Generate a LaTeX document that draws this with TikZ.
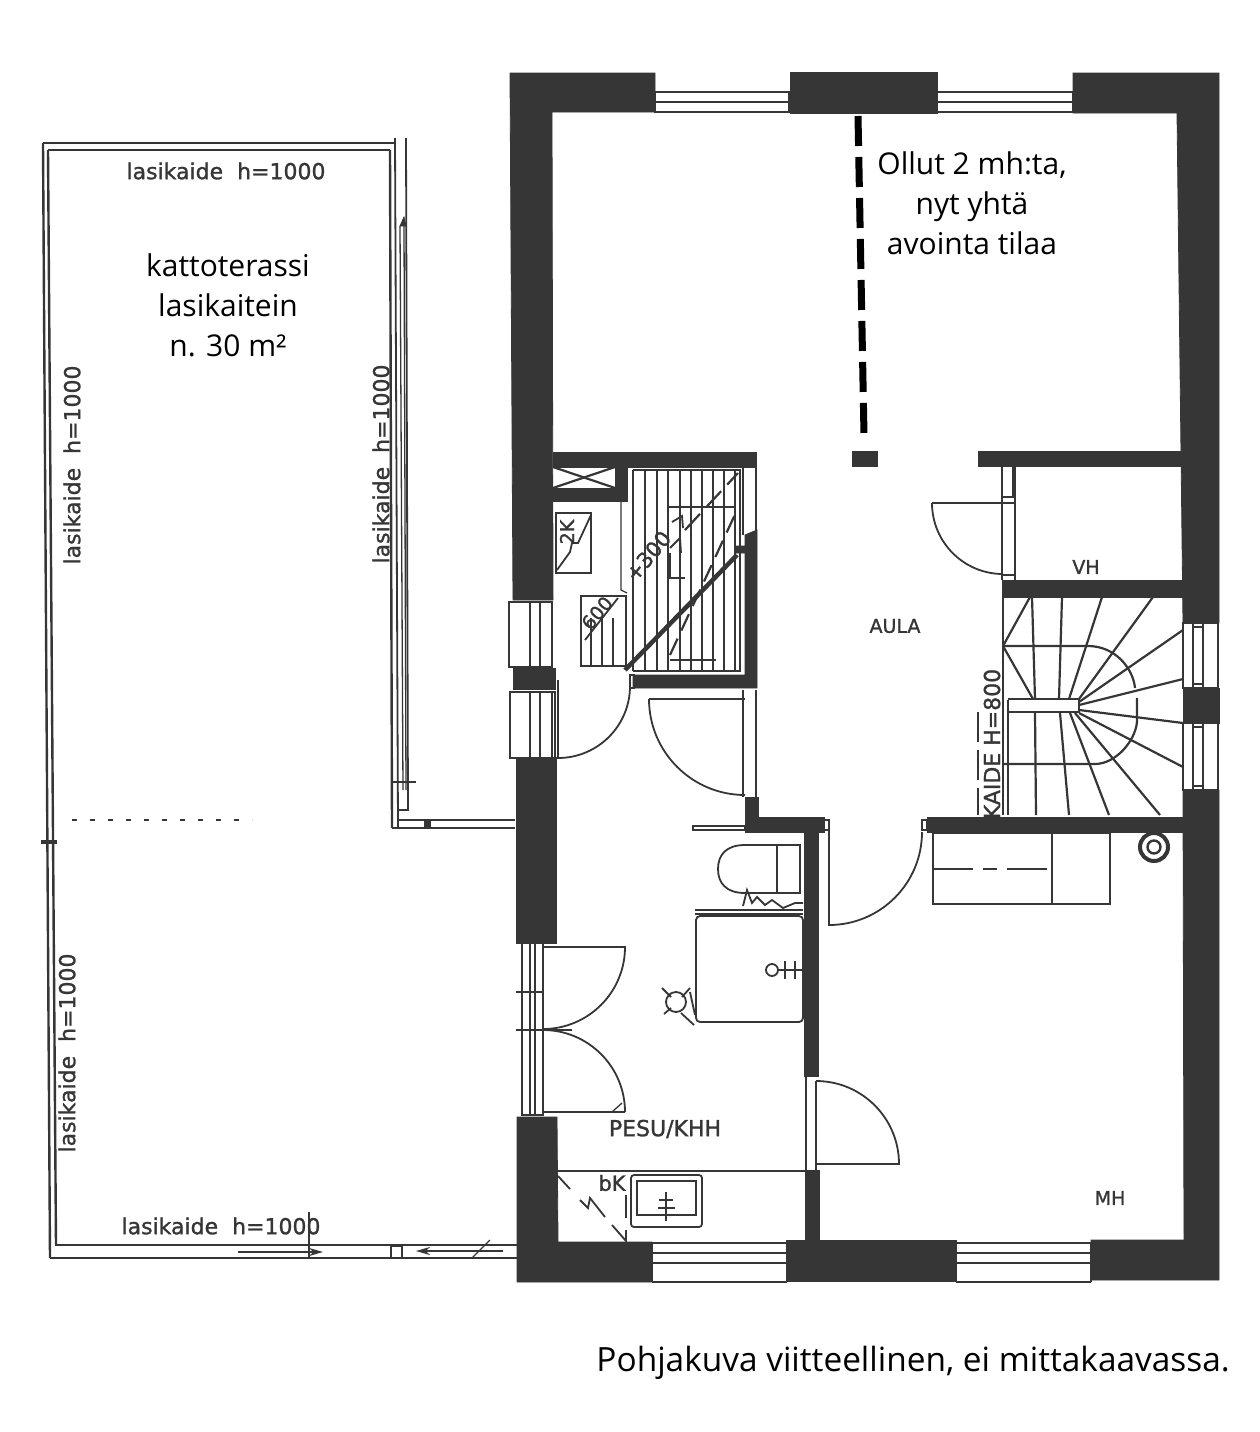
\documentclass[tikz,border=0pt]{standalone}
\usepackage{fontspec}
\setmainfont{Open Sans}
\newfontfamily\cadfamily[RawFeature={embolden=1.2}]{DejaVu Sans}
\usetikzlibrary{arrows.meta}
\definecolor{walldark}{HTML}{363636}
\tikzset{
    wall/.style={fill=walldark,draw=walldark,line width=0.8pt},
    plan/.style={draw=walldark,line width=1.8pt},
    fine/.style={draw=walldark,line width=1.3pt},
    tread/.style={draw=walldark,line width=2.2pt},
    rail/.style={draw=walldark,line width=2.4pt},
    cadtext/.style={text=walldark,inner sep=0pt,font=\cadfamily\fontsize{19}{19}\selectfont},
    bigcad/.style={text=walldark,inner sep=0pt,font=\cadfamily\fontsize{22}{22}\selectfont},
    notetext/.style={text=black,inner sep=0pt,align=center,font=\fontsize{30}{40}\selectfont}
}
\begin{document}
\begin{tikzpicture}[x=1pt,y=-1pt]
    \useasboundingbox (0,0) rectangle (1259,1432);

    % Outer walls
    \path[wall] (510,73) -- (655,73) -- (655,112) -- (552,112) -- (553,600) -- (513,600) -- cycle;
    \path[wall] (790,72) -- (937,72) -- (937,113) -- (790,113) -- cycle;
    \path[wall] (1073,73) -- (1219,73) -- (1219,623) -- (1183,623) -- (1177,113) -- (1073,113) -- cycle;
    \path[wall] (1183,688) rectangle (1219,723);
    \path[wall] (1091,1240) -- (1184,1240) -- (1183,790) -- (1219,790) -- (1219,1280) -- (1091,1280) -- cycle;
    \path[wall] (786,1240) -- (805,1240) -- (805,1170) -- (819,1170) -- (819,1240) -- (956,1240) -- (956,1281) -- (786,1281) -- cycle;
    \path[wall] (517,1117) -- (557,1117) -- (558,1242) -- (652,1242) -- (652,1282) -- (517,1282) -- cycle;
    \path[wall] (516,757) rectangle (556,943);
    \path[wall] (513,668) rectangle (555,689);

    % Inner walls
    \path[wall] (553,452) -- (756,452) -- (756,467) -- (627,467) -- (627,501) -- (553,501) -- (553,488) -- (615,488) -- (615,467) -- (553,467) -- cycle;
    \path[wall] (745,535) -- (757,530) -- (757,688) -- (633,688) -- (633,675) -- (745,675) -- (745,553) -- (736,553) -- (736,546) -- (745,546) -- cycle;
    \path[wall] (745,797) -- (758,797) -- (758,817) -- (824,817) -- (824,832) -- (818,832) -- (818,1076) -- (804,1076) -- (804,832) -- (745,832) -- cycle;
    \path[wall] (852,451) rectangle (877,466);
    \path[wall] (978,451) rectangle (1183,466);
    \path[wall] (1002,580) rectangle (1183,597);
    \path[wall] (927,817) rectangle (1183,832);
    \path[wall] (1012,466) rectangle (1015,497);

    % Removed partition
    \draw[black,line width=7pt,dash pattern=on 30pt off 11pt] (858,116) -- (864,435);

    % Windows
    \foreach \xa/\xb in {655/789,937/1073} {
        \draw[plan] (\xa,92) rectangle (\xb,112);
        \draw[plan] (\xa,102) -- (\xb,102);
    }
    \foreach \xa/\xb in {652/787,956/1091} {
        \draw[plan] (\xa,1243) rectangle (\xb,1263);
        \draw[plan] (\xa,1253) -- (\xb,1253);
        \draw[plan] (\xa,1282) -- (\xb,1282);
        \draw[fine] (\xa,1263) -- (\xa,1282);
        \draw[fine] (\xb,1263) -- (\xb,1282);
    }
    \foreach \ya/\yb in {623/688,723/790} {
        \draw[plan] (1183,\ya) rectangle (1218,\yb);
        \draw[fine] (1193,\ya) -- (1193,\yb);
        \draw[fine] (1203,\ya) -- (1203,\yb);
        \draw[fine] (1193,\ya+4) -- (1203,\ya+4);
        \draw[fine] (1193,\yb-4) -- (1203,\yb-4);
    }
    \draw[plan] (509,602) rectangle (552,667);
    \draw[fine] (530,602) -- (530,667);
    \draw[fine] (540,602) -- (540,667);
    \draw[plan] (510,692) rectangle (555,758);
    \draw[fine] (530,692) -- (530,758);
    \draw[fine] (540,692) -- (540,758);
    \draw[fine] (552,692) -- (552,758);

    % Shaft and cabinets
    \draw[tread] (553,467) -- (615,488);
    \draw[tread] (553,488) -- (615,467);
    \draw[fine] (621,501) -- (621,590) -- (627,593);
    \draw[plan] (556,513) rectangle (591,573);
    \draw[plan] (557,570) -- (570,552) -- (572,543) -- (578,543) -- (591,515);
    \node[cadtext,rotate=90] (fuseA) at (567,532) {2K};
    \draw[plan] (581,596) rectangle (626,666);
    \foreach \x in {591,602,613}
        \draw[fine] (\x,618) -- (\x,666);
    \draw[plan] (585,640) -- (618,598);
    \node[cadtext,rotate=50] (fuseB) at (597,613) {600};

    % Straight stair
    \draw[tread] (633,470) -- (741,470);
    \draw[tread] (633,671) -- (741,671);
    \foreach \x in {633,645,657,668,680,691,702,713,724,735,740}
        \draw[tread] (\x,470) -- (\x,671);
    \draw[plan] (668,507) -- (735,507);
    \draw[plan] (670,660) -- (716,660);
    \draw[fine] (743,467) -- (743,535);
    \draw[fine] (756,467) -- (756,535);
    \draw[walldark,line width=4.5pt] (625,670) -- (737,555);
    \draw[tread,dash pattern=on 18pt off 9pt] (670,655) -- (738,508);
    \draw[tread,dash pattern=on 22pt off 9pt] (685,530) -- (738,473);
    \draw[plan] (670,553) -- (670,578) -- (685,578);
    \draw[plan] (672,522) -- (682,516) -- (683,528);
    \draw[plan] (670,548) -- (680,538) -- (681,553);
    \node[cadtext,font=\cadfamily\fontsize{21}{21}\selectfont,rotate=50] (stairrise) at (648,556) {+300};

    % Doors
    \draw[plan] (630,675) rectangle (634,688);
    \draw[plan] (558,680) -- (558,758) arc (90:0:72);
    \draw[plan] (649,699) -- (745,699);
    \draw[plan] (649,699) arc (180:90:96);
    \draw[plan] (743,690) -- (743,797);
    \draw[plan] (756,690) -- (756,797);
    \draw[plan] (693,826) -- (745,826) -- (745,830) -- (693,830) -- cycle;
    \draw[plan] (932,503) -- (1003,503);
    \draw[plan] (932,503) arc (180:90:71);
    \draw[plan] (1002,466) -- (1002,580);
    \draw[plan] (1015,497) -- (1015,580);
    \draw[plan] (1002,497) -- (1015,497);
    \draw[plan] (1002,503) -- (1015,503);
    \draw[plan] (1002,575) -- (1015,575);
    \draw[plan] (829,820) -- (829,925) arc (90:0:93);
    \draw[plan] (824,820) rectangle (829,830);
    \draw[plan] (922,820) rectangle (927,830);
    \draw[plan] (806,1076) -- (806,1170);
    \draw[plan] (816,1081) -- (816,1170);
    \draw[plan] (806,1076) -- (818,1076);
    \draw[plan] (816,1081) arc (-90:0:83) -- (816,1164);

    % Double door
    \draw[plan] (522,943) -- (522,1115) -- (543,1115) -- (543,943) -- cycle;
    \foreach \x in {530,535}
        \draw[fine] (\x,943) -- (\x,1115);
    \draw[plan] (543,947) -- (625,947) arc (0:90:82);
    \draw[plan] (625,1112) -- (543,1112);
    \draw[plan] (543,1030) arc (-90:0:82);
    \draw[fine] (516,992) -- (543,992);
    \draw[fine] (516,1030) -- (572,1030);
    \draw[fine] (612,1112) -- (622,1103);

    % Spiral stair
    \draw[plan] (1003,597) -- (1003,815);
    \draw[plan] (1008,700) -- (1008,815);
    \draw[plan] (1008,699) -- (1079,699) -- (1079,712) -- (1008,712);
    \foreach \xa/\ya/\xb/\yb in {1003/646/1030/597, 1003/646/1033/699, 1032/597/1035/699,
        1062/597/1059/699, 1102/597/1069/699, 1153/597/1079/699, 1183/630/1079/702,
        1183/679/1079/705, 1183/723/1079/710, 1183/767/1079/713, 1160/815/1075/713,
        1109/815/1070/713, 1069/815/1060/713, 1036/815/1035/713}
        \draw[tread] (\xa,\ya) -- (\xb,\yb);
    \draw[tread] (1003,646) -- (1088,646) .. controls (1115,646) and (1133,668) .. (1135,688);
    \draw[tread] (1137,698) -- (1137,722) .. controls (1135,742) and (1115,764) .. (1095,764) -- (1003,764);
    \draw[fine,dash pattern=on 30pt off 8pt] (978,712) -- (978,815);
    \node[bigcad,rotate=90] (rail) at (992,744) {KAIDE H=800};

    % Closet and flue
    \draw[plan] (933,833) rectangle (1110,904);
    \draw[plan] (1052,833) -- (1052,904);
    \draw[plan,dash pattern=on 40pt off 10pt on 14pt off 10pt] (933,869) -- (1052,869);
    \draw[walldark,line width=4pt] (1154,847) circle (14);
    \draw[walldark,line width=2.4pt] (1154,847) circle (6.5);

    % Wash room fixtures
    \draw[plan] (800,845) -- (745,845) .. controls (726,845) and (718,855) .. (718,869) .. controls (718,883) and (726,893) .. (745,893) -- (800,893) -- cycle;
    \draw[plan] (777,845) -- (777,893);
    \draw[plan] (743,906) -- (747,890) -- (752,903) -- (757,897) -- (765,905) -- (772,900) -- (783,908) -- (795,903) -- (803,903);
    \draw[plan] (695,910) -- (803,910);
    \draw[plan] (695,914) -- (803,914);
    \draw[plan,rounded corners=4pt] (696,916) rectangle (803,1022);
    \draw[plan] (772,970) circle (6);
    \draw[plan] (778,970) -- (803,970);
    \draw[plan] (785,961) -- (785,979);
    \draw[plan] (795,961) -- (795,979);
    \draw[plan] (676,1002) circle (10);
    \draw[plan] (662,988) -- (671,997);
    \draw[plan] (664,1014) -- (671,1008);
    \draw[plan] (682,997) -- (690,988);
    \draw[plan] (681,1013) -- (694,1025);
    \draw[plan] (690,992) -- (695,1015);
    \draw[plan] (557,1171) -- (805,1171);
    \draw[plan,rounded corners=3pt] (631,1175) rectangle (702,1227);
    \draw[plan] (637,1181) rectangle (696,1215);
    \draw[fine] (666,1192) -- (666,1221);
    \draw[fine] (659,1200) -- (673,1200);
    \draw[fine] (658,1208) -- (675,1208);
    \draw[plan] (558,1176) -- (570,1189);
    \draw[plan] (580,1200) -- (588,1208) -- (590,1198) -- (605,1217);
    \draw[plan] (612,1225) -- (626,1241) -- (626,1230);
    \draw[plan] (626,1195) -- (626,1218);

    % Terrace rails
    \draw[rail] (43,143) -- (395,143);
    \draw[rail] (48,150) -- (390,150);
    \draw[rail] (43,143) -- (50,1258);
    \draw[rail] (48,150) -- (56,1245);
    \draw[walldark,line width=4pt] (41,842) -- (57,842);
    \draw[rail] (390,150) -- (392,828);
    \draw[plan] (395,138) -- (398,828);
    \draw[plan] (406,138) -- (408,810) -- (398,810);
    \draw[fine] (392,782) -- (416,782);
    \draw[fine] (400,226) -- (403,790);
    \draw[fine] (404,226) -- (406,790);
    \path[wall] (400,226) -- (404,217) -- (406,226) -- cycle;
    \draw[rail] (398,820) -- (515,820);
    \draw[rail] (392,828) -- (515,828);
    \path[wall] (424,821) rectangle (430,827);
    \draw[walldark,line width=1.6pt,dash pattern=on 5pt off 13pt] (72,820) -- (252,820);
    \draw[rail] (55,1245) -- (517,1245);
    \draw[rail] (50,1258) -- (517,1258);
    \draw[plan,line width=2.4pt,-{Stealth[length=14pt,width=8pt]}] (238,1252) -- (323,1252);
    \draw[plan,line width=2.4pt,-{Stealth[length=14pt,width=8pt]}] (503,1251) -- (416,1251);
    \draw[fine] (309,1212) -- (309,1259);
    \draw[fine] (391,1246) rectangle (402,1258);
    \draw[fine] (472,1258) -- (490,1240);

    % Labels
    \node[bigcad] (railtop) at (226,171) {lasikaide\ \ h=1000};
    \node[bigcad] (railbottom) at (221,1226) {lasikaide\ \ h=1000};
    \node[bigcad,rotate=90] (railwest) at (72,465) {lasikaide\ \ h=1000};
    \node[bigcad,rotate=90] (railsouth) at (67,1053) {lasikaide\ \ h=1000};
    \node[bigcad,rotate=90] (raileast) at (381,464) {lasikaide\ \ h=1000};
    \node[cadtext] (aula) at (895,626) {AULA};
    \node[cadtext] (vh) at (1086,567) {VH};
    \node[cadtext] (mh) at (1110,1198) {MH};
    \node[bigcad] (pesu) at (665,1129) {PESU/KHH};
    \node[cadtext,font=\cadfamily\fontsize{21}{21}\selectfont] (bk) at (612,1183) {bK};

    % Notes
    \node[notetext] (note) at (972,203) {Ollut 2 mh:ta,\\nyt yhtä\\avointa tilaa};
    \node[notetext] (terrace) at (228,305) {kattoterassi\\lasikaitein\\n. 30 m²};
    \node[notetext,anchor=east,font=\fontsize{33.4}{40}\selectfont] (caption) at (1230,1363) {Pohjakuva viitteellinen, ei mittakaavassa.};
\end{tikzpicture}
\end{document}
